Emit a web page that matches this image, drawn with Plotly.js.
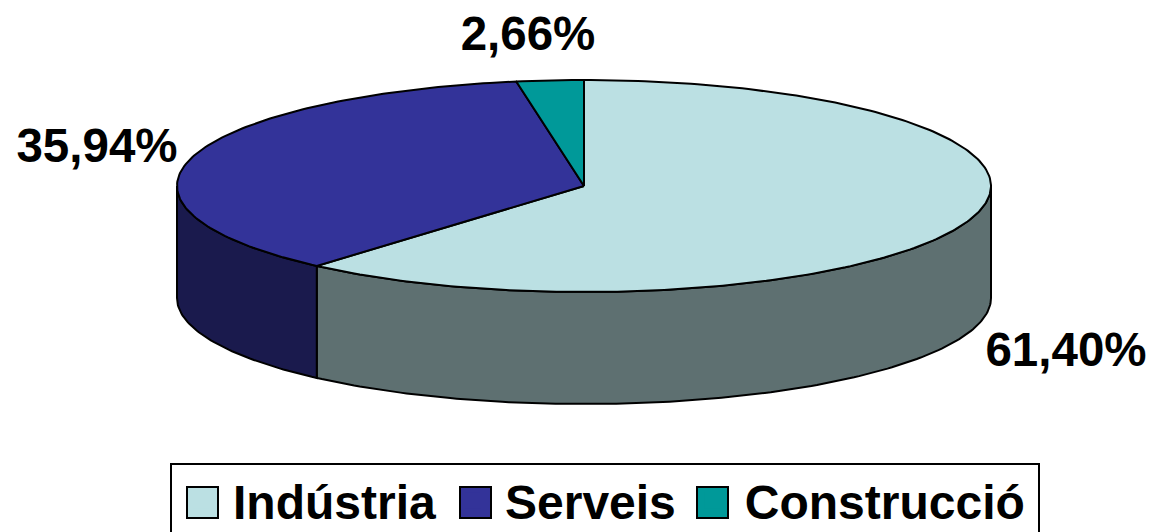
<!DOCTYPE html>
<html><head><meta charset="utf-8">
<script src="https://cdn.plot.ly/plotly-3.0.1.min.js"></script>
<style>html,body{margin:0;padding:0;background:#fff;overflow:hidden}</style>
</head><body><div id="chart" style="width:1151px;height:532px"></div>
<script>
const categories = ['Indústria', 'Serveis', 'Construcció'];
const shares = [61.40, 35.94, 2.66];
const topColors = ['#BBE0E3', '#333399', '#009999'];
const sideColors = ['#5E7071', '#1A1A4D', '#004D4D'];
const labelX = [1066, 97, 528];
const labelY = [354, 150, 38];
const swatchX = [187, 460, 697];
const swatchY = 487, swatchSize = 31;

const W = 1151, H = 532;
const cx = 584, cy = 186, rx = 407, ry = 106, depth = 112;
const font = {family: '"Liberation Sans", Arial, sans-serif', size: 48, weight: 700, color: '#000'};
const ptX = a => cx + rx * Math.sin(a), ptY = a => cy - ry * Math.cos(a);
function arc(a0, a1) {
  const n = Math.max(2, Math.ceil(Math.abs(a1 - a0) * 60)), out = [];
  for (let i = 0; i <= n; i++) out.push(a0 + (a1 - a0) * i / n);
  return out;
}
const traces = [];
let start = 0;
const walls = [], tops = [];
shares.forEach((v, i) => {
  const a0 = start, a1 = start + v / 100 * 2 * Math.PI;
  start = a1;
  const line = {color: '#000', width: 2};
  const base = {type: 'scatter', mode: 'lines', fill: 'toself', showlegend: false, hoverinfo: 'skip', line};
  const A = arc(a0, a1);
  tops.push(Object.assign({}, base, {
    name: categories[i] + ' top',
    x: [cx, ...A.map(ptX), cx], y: [cy, ...A.map(ptY), cy], fillcolor: topColors[i]
  }));
  const s0 = Math.max(a0, Math.PI / 2), s1 = Math.min(a1, 3 * Math.PI / 2);
  if (s1 > s0) {
    const B = arc(s0, s1);
    walls.push(Object.assign({}, base, {
      name: categories[i] + ' wall',
      x: [...B.map(ptX), ...B.slice().reverse().map(ptX), ptX(B[0])],
      y: [...B.map(ptY), ...B.slice().reverse().map(a => ptY(a) + depth), ptY(B[0])],
      fillcolor: sideColors[i]
    }));
  }
});
traces.push(...walls, ...tops);
traces.push({
  type: 'scatter', mode: 'text', x: labelX, y: labelY, showlegend: false, hoverinfo: 'skip',
  text: shares.map(v => v.toFixed(2).replace('.', ',') + '%'), textposition: 'middle center',
  textfont: Object.assign({}, font, {size: 47.5})
});
categories.forEach((c, i) => traces.push({
  type: 'scatter', mode: 'markers', name: c, x: [null], y: [null], hoverinfo: 'skip',
  marker: {symbol: 'square', size: 16, color: topColors[i], line: {width: 0}}
}));

const layout = {
  width: W, height: H, margin: {l: 0, r: 0, t: 0, b: 0, autoexpand: false},
  paper_bgcolor: '#fff', plot_bgcolor: '#fff',
  xaxis: {range: [0, W], visible: false, fixedrange: true},
  yaxis: {range: [H, 0], visible: false, fixedrange: true},
  showlegend: true,
  legend: {
    orientation: 'h', x: 169 / W, xanchor: 'left', y: 1 - 463 / H, yanchor: 'top',
    borderwidth: 0, bgcolor: 'rgba(0,0,0,0)', font, itemwidth: 54,
    itemclick: false, itemdoubleclick: false
  },
  shapes: [{
    type: 'rect', layer: 'above', xref: 'x', yref: 'y', x0: 171, x1: 1039, y0: 464, y1: 545,
    fillcolor: 'rgba(0,0,0,0)', line: {color: '#000', width: 2}
  }].concat(swatchX.map((x, i) => ({
    type: 'rect', layer: 'above', xref: 'x', yref: 'y', x0: x, x1: x + swatchSize, y0: swatchY, y1: swatchY + swatchSize,
    fillcolor: topColors[i], line: {color: '#000', width: 2}
  })))
};
Plotly.newPlot('chart', traces, layout, {displayModeBar: false, responsive: false});
</script></body></html>
